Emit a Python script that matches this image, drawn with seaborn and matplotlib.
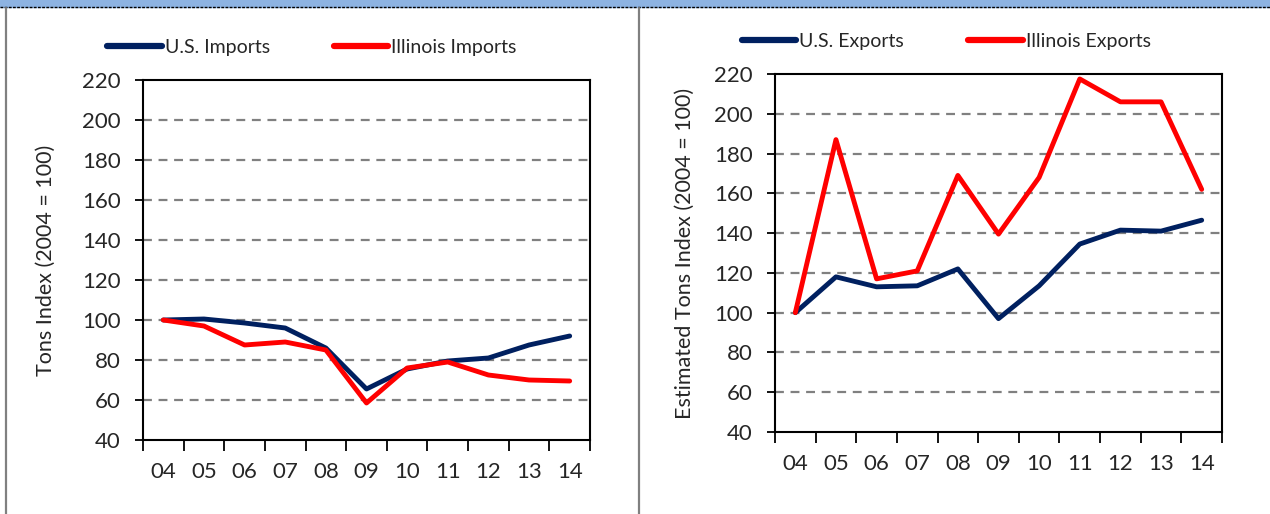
import matplotlib.pyplot as plt
import matplotlib.lines as mlines
import matplotlib.patches as mpatches
import pandas as pd
import seaborn as sb

years = ["04", "05", "06", "07", "08", "09", "10", "11", "12", "13", "14"]

us_imports = [100, 100.5, 98.5, 96, 86, 65.5, 75.5, 79.5, 81, 87.5, 92]
il_imports = [100, 97, 87.5, 89, 85, 58.5, 76, 79, 72.5, 70, 69.5]

us_exports = [100, 118, 113, 113.5, 122, 97, 113.5, 134.5, 141.5, 141, 146.5]
il_exports = [100, 187, 117, 121, 169, 139.5, 168, 217.5, 206, 206, 162]

yticks = [40, 60, 80, 100, 120, 140, 160, 180, 200, 220]

NAVY = "#002060"
RED = "#FF0000"

sb.set_style("white")
plt.rcParams["font.family"] = ["Lato", "DejaVu Sans"]


def long_df(a, b, name_a, name_b):
    return pd.DataFrame({
        "year": years * 2,
        "value": a + b,
        "series": [name_a] * len(years) + [name_b] * len(years),
    })


def draw(ax, df, names, ylabel, ylab_x, leg_x, leg_y):
    sb.lineplot(data=df, x="year", y="value", hue="series", hue_order=names,
                palette=[NAVY, RED], linewidth=3.5, ax=ax, sort=False)
    ax.set_xlim(-0.5, len(years) - 0.5)
    ax.set_ylim(40, 220)
    ax.set_yticks(yticks)
    ax.set_yticklabels([str(t) for t in yticks], fontsize=16)
    ax.set_xticks(range(len(years)))
    ax.set_xticklabels(years, fontsize=16)
    ax.set_xticks([i - 0.5 for i in range(len(years) + 1)], minor=True)
    ax.tick_params(axis="x", which="major", length=0, pad=16)
    ax.tick_params(axis="x", which="minor", length=8, width=1.3, color="black",
                   direction="out", bottom=True)
    ax.tick_params(axis="y", length=6, width=1.3, color="black",
                   direction="out", left=True, pad=10)
    for t in yticks[1:-1]:
        ax.axhline(t, color="#808080", linewidth=1.6, linestyle=(0, (4, 3)),
                   zorder=0)
    for s in ax.spines.values():
        s.set_visible(True)
        s.set_color("black")
        s.set_linewidth(1.5)
    ax.set_xlabel("")
    ax.set_ylabel(ylabel, fontsize=15.5)
    ax.yaxis.set_label_coords(ylab_x, 0.5)
    ax.legend(loc="center left", bbox_to_anchor=(leg_x, leg_y), ncol=2,
              frameon=False, fontsize=14, handlelength=2.8,
              handletextpad=0.15, columnspacing=3.3, borderaxespad=0,
              borderpad=0)
    for h in ax.get_legend().get_lines():
        h.set_linewidth(4.5)
        h.set_solid_capstyle("round")


fig = plt.figure(figsize=(12.7, 5.14), dpi=100)
ax1 = fig.add_axes([143 / 1270, 1 - 440 / 514, 447 / 1270, 360 / 514])
ax2 = fig.add_axes([775 / 1270, 1 - 432 / 514, 447 / 1270, 358 / 514])

draw(ax1, long_df(us_imports, il_imports, "U.S. Imports", "Illinois Imports"),
     ["U.S. Imports", "Illinois Imports"], "Tons Index (2004 = 100)",
     -0.195, -0.08, 1.09)
draw(ax2, long_df(us_exports, il_exports, "U.S. Exports", "Illinois Exports"),
     ["U.S. Exports", "Illinois Exports"], "Estimated Tons Index (2004 = 100)",
     -0.18, -0.074, 1.09)

# page decoration: blue band on top, gray side borders
fig.patches.append(mpatches.Rectangle((0, 1 - 7 / 514), 1, 7 / 514,
                                      transform=fig.transFigure,
                                      color="#8DB3E2", zorder=0))
fig.lines.append(mlines.Line2D([0, 1], [1 - 7 / 514] * 2, transform=fig.transFigure,
                               color="black", linewidth=1, linestyle=(0, (2, 1))))
for x in [5.5, 639]:
    fig.lines.append(mlines.Line2D([x / 1270] * 2, [0, 1 - 7.5 / 514],
                                   transform=fig.transFigure,
                                   color="#808080", linewidth=1.6))

fig.savefig("out.png", dpi=100)
